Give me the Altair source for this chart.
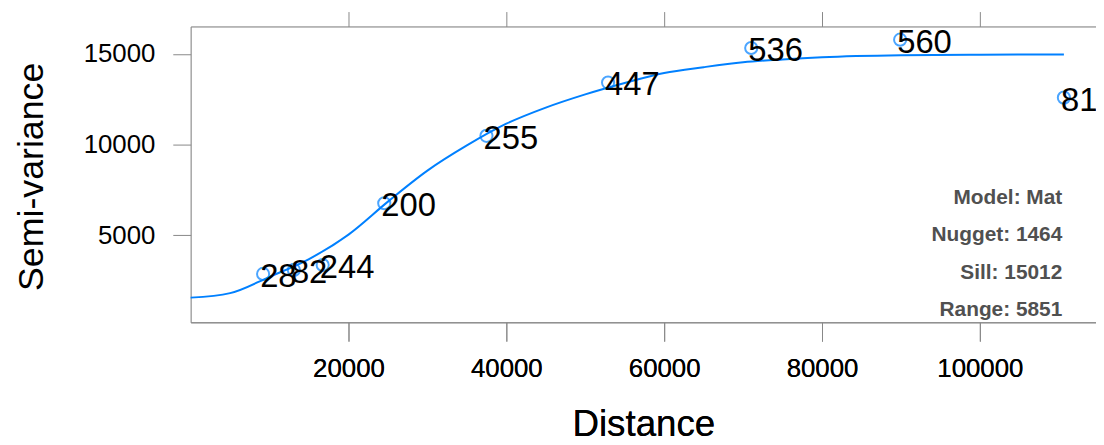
import altair as alt
import pandas as pd

# Sample variogram points (distance, semivariance, number of pairs)
dist_pts = [9180, 13080, 16730, 24530, 37480, 52890, 71030, 89900, 110650]
gamma_pts = [2860, 3080, 3350, 6760, 10480, 13420, 15330, 15790, 12590]
n_pairs = [28, 82, 244, 200, 255, 447, 536, 560, 81]

# Fitted model curve
model_dist = [0, 5000, 10000, 15000, 20000, 25000, 30000, 35000, 40000, 45000,
              50000, 55000, 60000, 65000, 70000, 75000, 80000, 90000, 100000, 110650]
model_gamma = [1550, 1800, 2700, 3680, 5030, 6850, 8560, 9950, 11150, 12040,
               12770, 13400, 13950, 14270, 14540, 14700, 14820, 14930, 14960, 14970]

x_ticks = [20000, 40000, 60000, 80000, 100000]
y_ticks = [5000, 10000, 15000]
model_lines = ["Model: Mat", "Nugget: 1464", "Sill: 15012", "Range: 5851"]

pts = pd.DataFrame({"dist": dist_pts, "gamma": gamma_pts, "np": n_pairs})
curve = pd.DataFrame({"dist": model_dist, "gamma": model_gamma})

xscale = alt.Scale(domain=[0, 114717], nice=False, zero=False)
yscale = alt.Scale(domain=[189, 16518], nice=False, zero=False)
BLUE = "#0080ff"

xaxis_bottom = alt.Axis(orient="bottom", values=x_ticks, format="d", tickSize=19,
                        labelPadding=15, labelFontSize=26, title="Distance",
                        titleFontSize=37, titleFontWeight="normal", titleX=456,
                        titleY=114, titleBaseline="alphabetic", titleAlign="center",
                        grid=False)
xaxis_top = alt.Axis(orient="top", values=x_ticks, labels=False, tickSize=15,
                     title=None, grid=False)
yaxis = alt.Axis(orient="left", values=y_ticks, format="d", tickSize=18,
                 labelPadding=18, labelFontSize=26, title="Semi-variance",
                 titleFontSize=36, titleFontWeight="normal", titleAngle=270,
                 titleX=-149, titleY=151, titleBaseline="alphabetic",
                 titleAlign="center", grid=False)

line = alt.Chart(curve).mark_line(color=BLUE, strokeWidth=2, interpolate="monotone").encode(
    x=alt.X("dist:Q", scale=xscale, axis=xaxis_bottom),
    y=alt.Y("gamma:Q", scale=yscale, axis=yaxis),
)

points = alt.Chart(pts).mark_point(shape="circle", filled=False, size=150,
                                   strokeWidth=2, color=BLUE).encode(
    x=alt.X("dist:Q", scale=xscale, axis=xaxis_top),
    y=alt.Y("gamma:Q", scale=yscale, axis=yaxis),
)

labels = alt.Chart(pts).mark_text(align="left", baseline="middle", dx=-3, dy=3,
                                  fontSize=33, color="black").encode(
    x=alt.X("dist:Q", scale=xscale, axis=xaxis_bottom),
    y=alt.Y("gamma:Q", scale=yscale, axis=yaxis),
    text="np:Q",
)

annot = alt.Chart(pd.DataFrame({"k": [0]})).mark_text(
    text=model_lines, align="right", baseline="top", fontSize=21, fontWeight="bold",
    color="#505050", lineHeight=37.8,
).encode(x=alt.value(878), y=alt.value(161.7))

chart = alt.layer(line, points, labels, annot).resolve_axis(x="independent").properties(
    width=912, height=298, autosize="none",
    padding={"left": 184, "top": 17, "right": 0, "bottom": 120},
).configure_axis(
    domainColor="#000000", domainWidth=2, tickColor="#000000", tickWidth=2,
    labelColor="black", titleColor="black", labelFont="Liberation Sans",
    titleFont="Liberation Sans",
).configure_view(stroke=None).configure(font="Liberation Sans")

chart.save("out.html", embed_options={"renderer": "svg", "actions": False})
